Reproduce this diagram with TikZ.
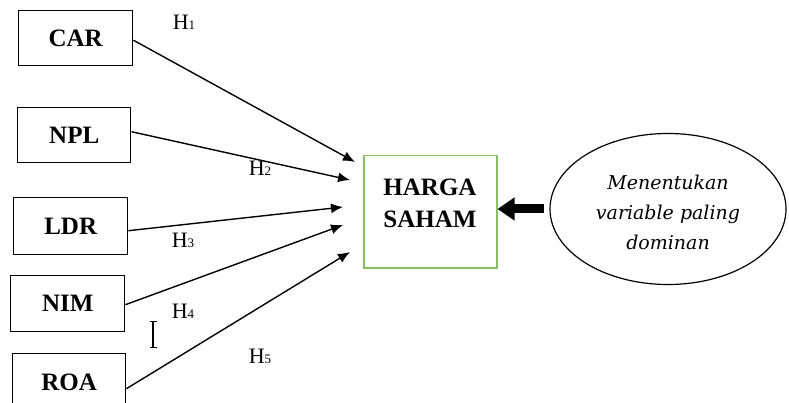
\documentclass[tikz,border=0pt]{standalone}
\usepackage{fontspec}
\setmainfont{Liberation Serif}
\newfontfamily\ovalfont{DejaVu Serif}
\usetikzlibrary{arrows.meta,shapes.geometric}
\definecolor{boxgreen}{RGB}{137,192,102}
\begin{document}
\begin{tikzpicture}[x=1pt,y=-1pt,
  varbox/.style={draw,line width=1.4pt,minimum height=55pt,inner sep=0pt,
    anchor=north west,font=\fontsize{25}{30}\selectfont\bfseries},
  hlab/.style={font=\fontsize{22}{24}\selectfont,inner sep=0pt},
  link/.style={line width=1.4pt,-{Latex[length=12pt,width=10pt]}}]
\useasboundingbox (0,0) rectangle (789,403);

% independent variables
\node[varbox,minimum width=114pt] (car) at (18,10) {CAR};
\node[varbox,minimum width=113pt] (npl) at (17,107) {NPL};
\node[varbox,minimum width=114pt,minimum height=57pt] (ldr) at (13,197) {LDR};
\node[varbox,minimum width=114pt,minimum height=56pt] (nim) at (10,275) {NIM};
\node[varbox,minimum width=113pt,minimum height=57pt] (roa) at (12,353) {ROA};

% dependent variable
\node[draw=boxgreen,line width=1.5pt,minimum width=133pt,minimum height=112pt,
  inner sep=0pt,anchor=north west] (harga) at (363,155) {};
\node[font=\fontsize{25}{32}\selectfont\bfseries,align=center] (hargatext) at (430,203) {HARGA\\SAHAM};

% dominant variable oval
\node[draw,ellipse,line width=1.2pt,minimum width=236pt,minimum height=151pt,inner sep=0pt] (oval) at (668,209) {};
\node[font=\ovalfont\itshape\fontsize{19}{30}\selectfont,align=center] (ovaltext) at (668,212)
  {Menentukan\\variable paling\\dominan};

% hypothesis labels
\node[hlab] (h1) at (184,22) {H{\fontsize{13}{14}\selectfont 1}};
\node[hlab] (h2) at (260,168) {H{\fontsize{13}{14}\selectfont 2}};
\node[hlab] (h3) at (183,240) {H{\fontsize{13}{14}\selectfont 3}};
\node[hlab] (h4) at (183,311) {H{\fontsize{13}{14}\selectfont 4}};
\node[hlab] (h5) at (260,356) {H{\fontsize{13}{14}\selectfont 5}};

% arrow tips near the dependent box
\coordinate (t1) at (355,162);
\coordinate (t2) at (350,180);
\coordinate (t3) at (343,207);
\coordinate (t4) at (343,225);
\coordinate (t5) at (350,252);

\draw[link] ([yshift=-2pt]car.east) -- (t1);
\draw[link] ([yshift=3.5pt]npl.east) -- (t2);
\draw[link] ([yshift=-4.5pt]ldr.east) -- (t3);
\draw[link] ([yshift=-1pt]nim.east) -- (t4);
\draw[link] ([yshift=-6.5pt]roa.east) -- (t5);

% thick arrow from the oval
\draw[line width=9pt,-{Triangle[length=17pt,width=22pt]}]
  ([xshift=-5pt]oval.west) -- (harga.east |- oval.west);

% text cursor
\draw[line width=1.1pt] (153,322) -- (153,347)
  (149.5,321.5) -- (156.5,321.5) (149.5,347.5) -- (156.5,347.5);
\end{tikzpicture}
\end{document}
